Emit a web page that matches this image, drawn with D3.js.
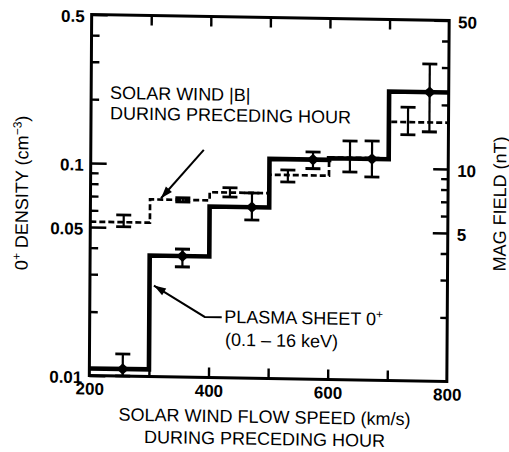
<!DOCTYPE html>
<html>
<head>
<meta charset="utf-8">
<script src="https://cdn.jsdelivr.net/npm/d3@7"></script>
<style>
  html, body { margin: 0; padding: 0; background: #fff; }
  svg { display: block; }
  text { font-family: "Liberation Sans", Arial, Helvetica, sans-serif; fill: #000; }
</style>
</head>
<body>
<svg id="chart" width="509" height="452"></svg>
<script>
// Solar wind speed bins (km/s)
const binEdges = [200, 300, 400, 500, 600, 700, 800];

// Plasma sheet O+ density (cm^-3), one value per speed bin
const oxygenDensity = [0.0108, 0.0371, 0.0638, 0.108, 0.110, 0.229];
const oxygenSpeed   = [256, 355, 471, 573, 672, 768];
const oxygenErrHigh = [0.0127, 0.0400, 0.0744, 0.1173, 0.1336, 0.311];
const oxygenErrLow  = [0.0100, 0.0330, 0.0556, 0.0980, 0.0904, 0.149];

// Solar wind |B| during the preceding hour (nT), one value per speed bin
const fieldStrength = [5.30, 6.82, 7.45, 9.10, 11.1, 16.5];
const fieldSpeed    = [256, 355, 434, 531, 635, 732];
const fieldErrHigh  = [5.73, 6.97, 7.84, 9.61, 13.3, 19.4];
const fieldErrLow   = [5.04, 6.67, 7.10, 8.44, 9.51, 14.4];

// Tick values
const speedTicks = [200, 400, 600, 800];
const speedMinorTicks = [300, 400, 500, 600, 700];
const densityTicks = [0.5, 0.1, 0.05, 0.01];
const densityMinorTicks = [0.4, 0.3, 0.2, 0.09, 0.08, 0.07, 0.06, 0.04, 0.03, 0.02];
const fieldTicks = [50, 10, 5];
const fieldMinorTicks = [40, 30, 20, 9, 8, 7, 6, 4, 3, 2];

const frame = { left: 90.5, right: 448, top: 17.5, bottom: 378.5 };

const svg = d3.select("#chart");
// whole figure sits slightly askew on the page
const root = svg.append("g")
  .attr("transform", "matrix(1,0.0166,-0.0065,1,1.287,-4.465)");

const x = d3.scaleLinear().domain([200, 800]).range([frame.left, frame.right]);
const y = d3.scaleLog().domain([0.01, 0.5]).range([frame.bottom, frame.top]);
const yB = d3.scaleLog().domain([1, 50]).range([frame.bottom, frame.top]);

// ---- frame and ticks ----
root.append("rect")
  .attr("x", frame.left).attr("y", frame.top)
  .attr("width", frame.right - frame.left).attr("height", frame.bottom - frame.top)
  .attr("fill", "none").attr("stroke", "#000").attr("stroke-width", 3);

function styleAxis(g) {
  g.select(".domain").remove();
  g.selectAll(".tick line").attr("stroke", "#000").attr("stroke-width", 2.4);
  g.selectAll(".tick text")
    .style("font-family", '"Liberation Sans", Arial, sans-serif')
    .style("font-size", "17px").style("font-weight", "bold").attr("fill", "#000");
}

// left density axis
root.append("g").attr("transform", `translate(${frame.left},0)`)
  .call(d3.axisLeft(y).tickValues(densityMinorTicks).tickSize(-8).tickFormat(""))
  .call(styleAxis);
root.append("g").attr("transform", `translate(${frame.left},0)`)
  .call(d3.axisLeft(y).tickValues(densityTicks).tickSize(-16).tickPadding(7)
    .tickFormat(d => String(d)))
  .call(styleAxis)
  .call(g => g.selectAll(".tick text").attr("dy", "0.42em"));

// right field axis
root.append("g").attr("transform", `translate(${frame.right},0)`)
  .call(d3.axisRight(yB).tickValues(fieldMinorTicks).tickSize(-7).tickFormat(""))
  .call(styleAxis);
root.append("g").attr("transform", `translate(${frame.right},0)`)
  .call(d3.axisRight(yB).tickValues(fieldTicks).tickSize(-15).tickPadding(9)
    .tickFormat(d => String(d)))
  .call(styleAxis)
  .call(g => g.selectAll(".tick text").attr("dy", "0.42em"));

// bottom and top speed axes
root.append("g").attr("transform", `translate(0,${frame.bottom})`)
  .call(d3.axisBottom(x).tickValues(speedMinorTicks).tickSize(-10).tickFormat(""))
  .call(styleAxis);
root.append("g").attr("transform", `translate(0,${frame.top})`)
  .call(d3.axisTop(x).tickValues(speedMinorTicks).tickSize(-10).tickFormat(""))
  .call(styleAxis);
root.append("g").attr("transform", `translate(0,${frame.bottom})`)
  .call(d3.axisBottom(x).tickValues(speedTicks).tickSize(0).tickPadding(7)
    .tickFormat(d => String(d)))
  .call(styleAxis);

// ---- solar wind |B| (dashed step, right axis) ----
const fieldSteps = binEdges.map((e, i) => [e, fieldStrength[Math.min(i, fieldStrength.length - 1)]]);
root.append("path")
  .datum(fieldSteps)
  .attr("d", d3.line().x(d => x(d[0])).y(d => yB(d[1])).curve(d3.curveStepAfter))
  .attr("fill", "none").attr("stroke", "#000")
  .attr("stroke-width", 2.7).attr("stroke-dasharray", "6,3");

const capHalf = 7.5;
function errorBars(g, speeds, hi, lo, scale) {
  const bars = g.selectAll("g.eb").data(speeds.map((s, i) => ({ s, hi: hi[i], lo: lo[i] })))
    .join("g").attr("class", "eb");
  bars.append("line")
    .attr("x1", d => x(d.s)).attr("x2", d => x(d.s))
    .attr("y1", d => scale(d.hi)).attr("y2", d => scale(d.lo))
    .attr("stroke", "#000").attr("stroke-width", 2.2);
  ["hi", "lo"].forEach(k => {
    bars.append("line")
      .attr("x1", d => x(d.s) - capHalf).attr("x2", d => x(d.s) + capHalf)
      .attr("y1", d => scale(d[k])).attr("y2", d => scale(d[k]))
      .attr("stroke", "#000").attr("stroke-width", 2.8);
  });
}
errorBars(root.append("g"), fieldSpeed, fieldErrHigh, fieldErrLow, yB);

// ---- plasma sheet O+ (solid step, left axis) ----
const oxygenSteps = binEdges.map((e, i) => [e, oxygenDensity[Math.min(i, oxygenDensity.length - 1)]]);
root.append("path")
  .datum(oxygenSteps)
  .attr("d", d3.line().x(d => x(d[0])).y(d => y(d[1])).curve(d3.curveStepAfter))
  .attr("fill", "none").attr("stroke", "#000")
  .attr("stroke-width", 4.6).attr("stroke-linejoin", "miter");

errorBars(root.append("g"), oxygenSpeed, oxygenErrHigh, oxygenErrLow, y);

root.append("g").selectAll("path")
  .data(oxygenSpeed.map((s, i) => [s, oxygenDensity[i]]))
  .join("path")
  .attr("transform", d => `translate(${x(d[0])},${y(d[1])})`)
  .attr("d", "M0,-5.8L6.2,0L0,5.8L-6.2,0Z")
  .attr("fill", "#000");

// ---- annotations ----
function arrowLine(points) {
  root.append("path")
    .attr("d", d3.line()(points))
    .attr("fill", "none").attr("stroke", "#000").attr("stroke-width", 2);
  const [x1, y1] = points[points.length - 2];
  const [x2, y2] = points[points.length - 1];
  const a = Math.atan2(y2 - y1, x2 - x1);
  const len = 12, hw = 4;
  const bx = x2 - len * Math.cos(a), by = y2 - len * Math.sin(a);
  root.append("path")
    .attr("d", `M${x2},${y2}L${bx - hw * Math.sin(a)},${by + hw * Math.cos(a)}` +
               `L${bx + hw * Math.sin(a)},${by - hw * Math.cos(a)}Z`)
    .attr("fill", "#000");
}

const note = root.append("g").style("font-size", "18px");
note.append("text").attr("x", 109.5).attr("y", 101.5).text("SOLAR WIND |B|");
note.append("text").attr("x", 109.5).attr("y", 122).text("DURING PRECEDING HOUR");
arrowLine([[203.5, 151], [161, 200]]);

const t1 = note.append("text").attr("x", 225).attr("y", 323.5);
t1.append("tspan").text("PLASMA SHEET 0");
t1.append("tspan").attr("dy", -7).style("font-size", "12px").text("+");
note.append("text").attr("x", 226).attr("y", 346.5).text("(0.1 \u2013 16 keV)");
arrowLine([[222.5, 318], [205.5, 318], [154.5, 287.5]]);

// ---- axis titles ----
const titles = root.append("g").style("font-size", "18px").attr("text-anchor", "middle");
titles.append("text").attr("x", 266).attr("y", 423).text("SOLAR WIND FLOW SPEED (km/s)");
titles.append("text").attr("x", 266).attr("y", 445).text("DURING PRECEDING HOUR");

const yTitle = titles.append("text")
  .attr("transform", "translate(28,197) rotate(-90)");
yTitle.append("tspan").text("0");
yTitle.append("tspan").attr("dy", -7).style("font-size", "12px").text("+");
yTitle.append("tspan").attr("dy", 7).text(" DENSITY (cm");
yTitle.append("tspan").attr("dy", -7).style("font-size", "12px").text("\u22123");
yTitle.append("tspan").attr("dy", 7).text(")");

titles.append("text")
  .attr("transform", "translate(506,200) rotate(-90)")
  .text("MAG FIELD (nT)");
</script>
</body>
</html>
